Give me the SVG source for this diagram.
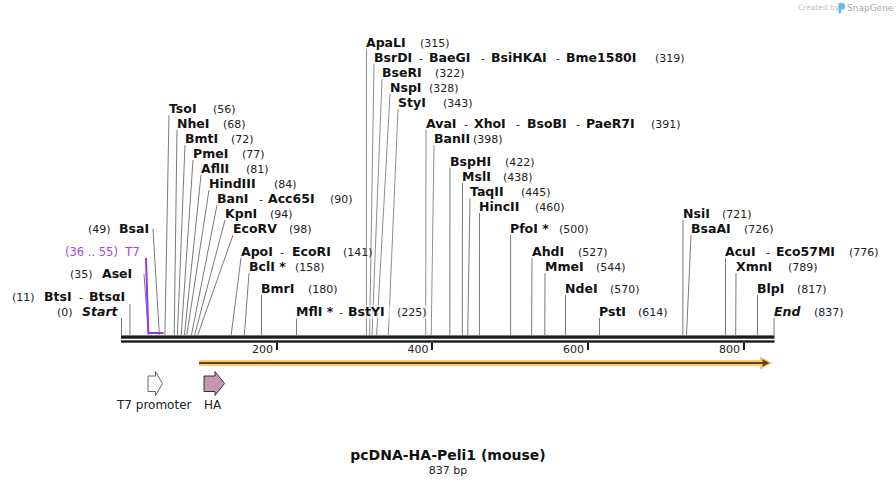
<svg xmlns="http://www.w3.org/2000/svg" width="896" height="486" viewBox="0 0 896 486">
<style>
.n{font-family:"DejaVu Sans",Verdana,sans-serif;font-weight:bold;font-size:12.5px;fill:#111}
.ni{font-family:"DejaVu Sans",Verdana,sans-serif;font-weight:bold;font-style:italic;font-size:12.5px;fill:#111}
.p{font-family:"DejaVu Sans",Verdana,sans-serif;font-size:11px;fill:#222}
.d{font-family:"DejaVu Sans",Verdana,sans-serif;font-size:11px;fill:#222}
.pu{font-family:"DejaVu Sans",Verdana,sans-serif;font-size:12px;fill:#a348e6}
.f{font-family:"DejaVu Sans",Verdana,sans-serif;font-size:12px;fill:#222}
.c line{stroke:#7a7a7a;stroke-width:1;fill:none}
.bb{fill:#1c1c1c}
</style>
<rect width="896" height="486" fill="#fff"/>

<!-- SnapGene credit -->
<g id="credit">
<text x="798" y="10" style="font-family:'DejaVu Sans',sans-serif;font-size:7.5px;fill:#c2c2c2">Created by</text>
<path d="M838.5,3 h3.5 a3.2,3.2 0 0 1 0,6.4 h-0.8 v3.8 h-2.7 z" fill="#5dbdf0"/>
<text x="847" y="11" style="font-family:'DejaVu Sans',sans-serif;font-size:9px;fill:#a8a8a8">SnapGene</text>
</g>

<!-- backbone -->
<g id="backbone">
<rect class="bb" x="121" y="335.4" width="653.5" height="3.3"/>
<rect class="bb" x="121" y="340.3" width="653.5" height="2.4"/>
<rect class="bb" x="276" y="342.5" width="2" height="7.5"/>
<rect class="bb" x="431" y="342.5" width="2" height="7.5"/>
<rect class="bb" x="587" y="342.5" width="2" height="7.5"/>
<rect class="bb" x="743" y="342.5" width="2" height="7.5"/>
<text class="d" x="273" y="352.5" text-anchor="end">200</text>
<text class="d" x="428.5" y="352.5" text-anchor="end">400</text>
<text class="d" x="584" y="352.5" text-anchor="end">600</text>
<text class="d" x="740" y="352.5" text-anchor="end">800</text>
</g>

<!-- connectors -->
<g id="connectors" class="c">
<line x1="121.5" y1="318" x2="121.5" y2="335.5"/>
<line x1="130" y1="304" x2="130" y2="335.5"/>
<line x1="144" y1="274" x2="148.5" y2="335.5"/>
<line x1="153" y1="229" x2="159.4" y2="335.5"/>
<line x1="169" y1="115" x2="164.9" y2="335.5"/>
<line x1="177" y1="130" x2="174.2" y2="335.5"/>
<line x1="185" y1="145" x2="177.4" y2="335.5"/>
<line x1="193" y1="160" x2="181.2" y2="335.5"/>
<line x1="201" y1="175" x2="184.4" y2="335.5"/>
<line x1="209" y1="190" x2="186.7" y2="335.5"/>
<line x1="217" y1="205" x2="191.4" y2="335.5"/>
<line x1="225" y1="220" x2="194.5" y2="335.5"/>
<line x1="233" y1="235" x2="197.6" y2="335.5"/>
<line x1="241" y1="258" x2="231.1" y2="335.5"/>
<line x1="249" y1="273" x2="244.3" y2="335.5"/>
<line x1="261.5" y1="295" x2="261.5" y2="335.5"/>
<line x1="296.5" y1="318" x2="296.5" y2="335.5"/>
<line x1="366.5" y1="49" x2="366.5" y2="335.5" opacity="0.85"/>
<line x1="374" y1="64" x2="369.6" y2="335.5" opacity="0.85"/>
<line x1="382" y1="79" x2="372" y2="335.5" opacity="0.85"/>
<line x1="390" y1="94" x2="376.6" y2="335.5" opacity="0.85"/>
<line x1="398" y1="109" x2="388.3" y2="335.5" opacity="0.85"/>
<line x1="426" y1="130" x2="425.7" y2="335.5" opacity="0.85"/>
<line x1="434" y1="145" x2="431.2" y2="335.5" opacity="0.85"/>
<line x1="450" y1="168" x2="449.8" y2="335.5"/>
<line x1="462.5" y1="183" x2="462.3" y2="335.5"/>
<line x1="470" y1="198" x2="467.7" y2="335.5"/>
<line x1="479.5" y1="213" x2="479.4" y2="335.5"/>
<line x1="510.6" y1="235" x2="510.6" y2="335.5"/>
<line x1="532" y1="258" x2="531.6" y2="335.5"/>
<line x1="545" y1="273" x2="544.8" y2="335.5"/>
<line x1="565.5" y1="295" x2="565.5" y2="335.5"/>
<line x1="599.5" y1="318" x2="599.5" y2="335.5"/>
<line x1="683" y1="220" x2="682.8" y2="335.5"/>
<line x1="691" y1="235" x2="686.5" y2="335.5"/>
<line x1="725.5" y1="258" x2="725.5" y2="335.5"/>
<line x1="736" y1="273" x2="735.7" y2="335.5"/>
<line x1="757.5" y1="295" x2="757.5" y2="335.5"/>
<line x1="774" y1="318" x2="774" y2="335.5"/>
</g>

<rect x="294" y="305" width="134" height="14" fill="#fff" opacity="0.55"/>

<!-- primer T7 -->
<g id="primer-T7">
<path d="M146,258 L148.3,333 H163.5" fill="none" stroke="#9933ee" stroke-width="2"/>
<text class="pu" x="65" y="256" style="font-size:11.5px">(36 .. 55)</text>
<text class="pu" x="125" y="256">T7</text>
</g>

<!-- left labels -->
<g id="Start"><text class="p" x="57" y="316">(0)</text><text class="ni" x="82" y="316">Start</text></g>
<g id="BtsI"><text class="p" x="12" y="301">(11)</text><text class="n" x="44" y="301">BtsI</text><text class="p" x="79" y="301">-</text><text class="n" x="89" y="301">BtsαI</text></g>
<g id="AseI"><text class="p" x="70" y="278">(35)</text><text class="n" x="102" y="278">AseI</text></g>
<g id="BsaI"><text class="p" x="88" y="233">(49)</text><text class="n" x="119" y="233">BsaI</text></g>

<!-- right labels -->
<g id="TsoI"><text class="n" x="169" y="113">TsoI</text><text class="p" x="213" y="113">(56)</text></g>
<g id="NheI"><text class="n" x="177" y="128">NheI</text><text class="p" x="223" y="128">(68)</text></g>
<g id="BmtI"><text class="n" x="185" y="143">BmtI</text><text class="p" x="231" y="143">(72)</text></g>
<g id="PmeI"><text class="n" x="193" y="158">PmeI</text><text class="p" x="242" y="158">(77)</text></g>
<g id="AflII"><text class="n" x="201" y="173">AflII</text><text class="p" x="246" y="173">(81)</text></g>
<g id="HindIII"><text class="n" x="209" y="188">HindIII</text><text class="p" x="274" y="188">(84)</text></g>
<g id="BanI"><text class="n" x="217" y="203">BanI</text><text class="p" x="259" y="203">-</text><text class="n" x="268" y="203">Acc65I</text><text class="p" x="330" y="203">(90)</text></g>
<g id="KpnI"><text class="n" x="225" y="218">KpnI</text><text class="p" x="270" y="218">(94)</text></g>
<g id="EcoRV"><text class="n" x="233" y="233">EcoRV</text><text class="p" x="289" y="233">(98)</text></g>
<g id="ApoI"><text class="n" x="241" y="256">ApoI</text><text class="p" x="280" y="256">-</text><text class="n" x="292" y="256">EcoRI</text><text class="p" x="343" y="256">(141)</text></g>
<g id="BclI"><text class="n" x="249" y="271">BclI *</text><text class="p" x="295" y="271">(158)</text></g>
<g id="BmrI"><text class="n" x="261" y="293">BmrI</text><text class="p" x="308" y="293">(180)</text></g>
<g id="MflI"><text class="n" x="296" y="316">MflI *</text><text class="p" x="339" y="316">-</text><text class="n" x="348" y="316">BstYI</text><text class="p" x="397" y="316">(225)</text></g>
<g id="ApaLI"><text class="n" x="366" y="47">ApaLI</text><text class="p" x="420" y="47">(315)</text></g>
<g id="BsrDI"><text class="n" x="374" y="62">BsrDI</text><text class="p" x="419" y="62">-</text><text class="n" x="429" y="62">BaeGI</text><text class="p" x="481" y="62">-</text><text class="n" x="491" y="62">BsiHKAI</text><text class="p" x="556" y="62">-</text><text class="n" x="566" y="62">Bme1580I</text><text class="p" x="655" y="62">(319)</text></g>
<g id="BseRI"><text class="n" x="382" y="77">BseRI</text><text class="p" x="435" y="77">(322)</text></g>
<g id="NspI"><text class="n" x="390" y="92">NspI</text><text class="p" x="429" y="92">(328)</text></g>
<g id="StyI"><text class="n" x="398" y="107">StyI</text><text class="p" x="443" y="107">(343)</text></g>
<g id="AvaI"><text class="n" x="426" y="128">AvaI</text><text class="p" x="464" y="128">-</text><text class="n" x="474" y="128">XhoI</text><text class="p" x="516" y="128">-</text><text class="n" x="527" y="128">BsoBI</text><text class="p" x="576" y="128">-</text><text class="n" x="586" y="128">PaeR7I</text><text class="p" x="651" y="128">(391)</text></g>
<g id="BanII"><text class="n" x="434" y="143">BanII</text><text class="p" x="473" y="143">(398)</text></g>
<g id="BspHI"><text class="n" x="450" y="166">BspHI</text><text class="p" x="505" y="166">(422)</text></g>
<g id="MslI"><text class="n" x="462" y="181">MslI</text><text class="p" x="503" y="181">(438)</text></g>
<g id="TaqII"><text class="n" x="470" y="196">TaqII</text><text class="p" x="521" y="196">(445)</text></g>
<g id="HincII"><text class="n" x="479" y="211">HincII</text><text class="p" x="535" y="211">(460)</text></g>
<g id="PfoI"><text class="n" x="510" y="233">PfoI *</text><text class="p" x="559" y="233">(500)</text></g>
<g id="AhdI"><text class="n" x="532" y="256">AhdI</text><text class="p" x="578" y="256">(527)</text></g>
<g id="MmeI"><text class="n" x="545" y="271">MmeI</text><text class="p" x="596" y="271">(544)</text></g>
<g id="NdeI"><text class="n" x="565" y="293">NdeI</text><text class="p" x="610" y="293">(570)</text></g>
<g id="PstI"><text class="n" x="599" y="316">PstI</text><text class="p" x="638" y="316">(614)</text></g>
<g id="NsiI"><text class="n" x="683" y="218">NsiI</text><text class="p" x="722" y="218">(721)</text></g>
<g id="BsaAI"><text class="n" x="691" y="233">BsaAI</text><text class="p" x="744" y="233">(726)</text></g>
<g id="AcuI"><text class="n" x="725" y="256">AcuI</text><text class="p" x="766" y="256">-</text><text class="n" x="776" y="256">Eco57MI</text><text class="p" x="849" y="256">(776)</text></g>
<g id="XmnI"><text class="n" x="736" y="271">XmnI</text><text class="p" x="788" y="271">(789)</text></g>
<g id="BlpI"><text class="n" x="757" y="293">BlpI</text><text class="p" x="797" y="293">(817)</text></g>
<g id="End"><text class="ni" x="774" y="316">End</text><text class="p" x="814" y="316">(837)</text></g>

<!-- ORF arrow -->
<g id="orf">
<path d="M199,363 H764" stroke="#fbc771" stroke-width="6"/>
<polygon points="760,356.5 772.5,363 760,369.5" fill="#fbc771"/>
<path d="M199,363 H764" stroke="#5a4728" stroke-width="1.8"/>
<polygon points="762.5,359.3 769.5,363 762.5,366.7" fill="#5a4728"/>
</g>

<!-- features -->
<g id="T7-promoter">
<polygon points="148,376 155.5,376 155.5,371.5 162.5,383.5 155.5,395.5 155.5,391.5 148,391.5" fill="#fff" stroke="#666" stroke-width="1"/>
<text class="f" x="117" y="408.5">T7 promoter</text>
</g>
<g id="HA">
<polygon points="204,376 215,376 215,371.5 224.5,383.5 215,395.5 215,391.5 204,391.5" fill="#c896b4" stroke="#333" stroke-width="1"/>
<text class="f" x="204" y="408.5">HA</text>
</g>

<!-- title -->
<g id="title">
<text x="448" y="460" text-anchor="middle" style="font-family:'DejaVu Sans',Verdana,sans-serif;font-weight:bold;font-size:14px;fill:#111">pcDNA-HA-Peli1 (mouse)</text>
<text x="448" y="473.5" text-anchor="middle" style="font-family:'DejaVu Sans',Verdana,sans-serif;font-size:11px;fill:#222">837 bp</text>
</g>
</svg>
